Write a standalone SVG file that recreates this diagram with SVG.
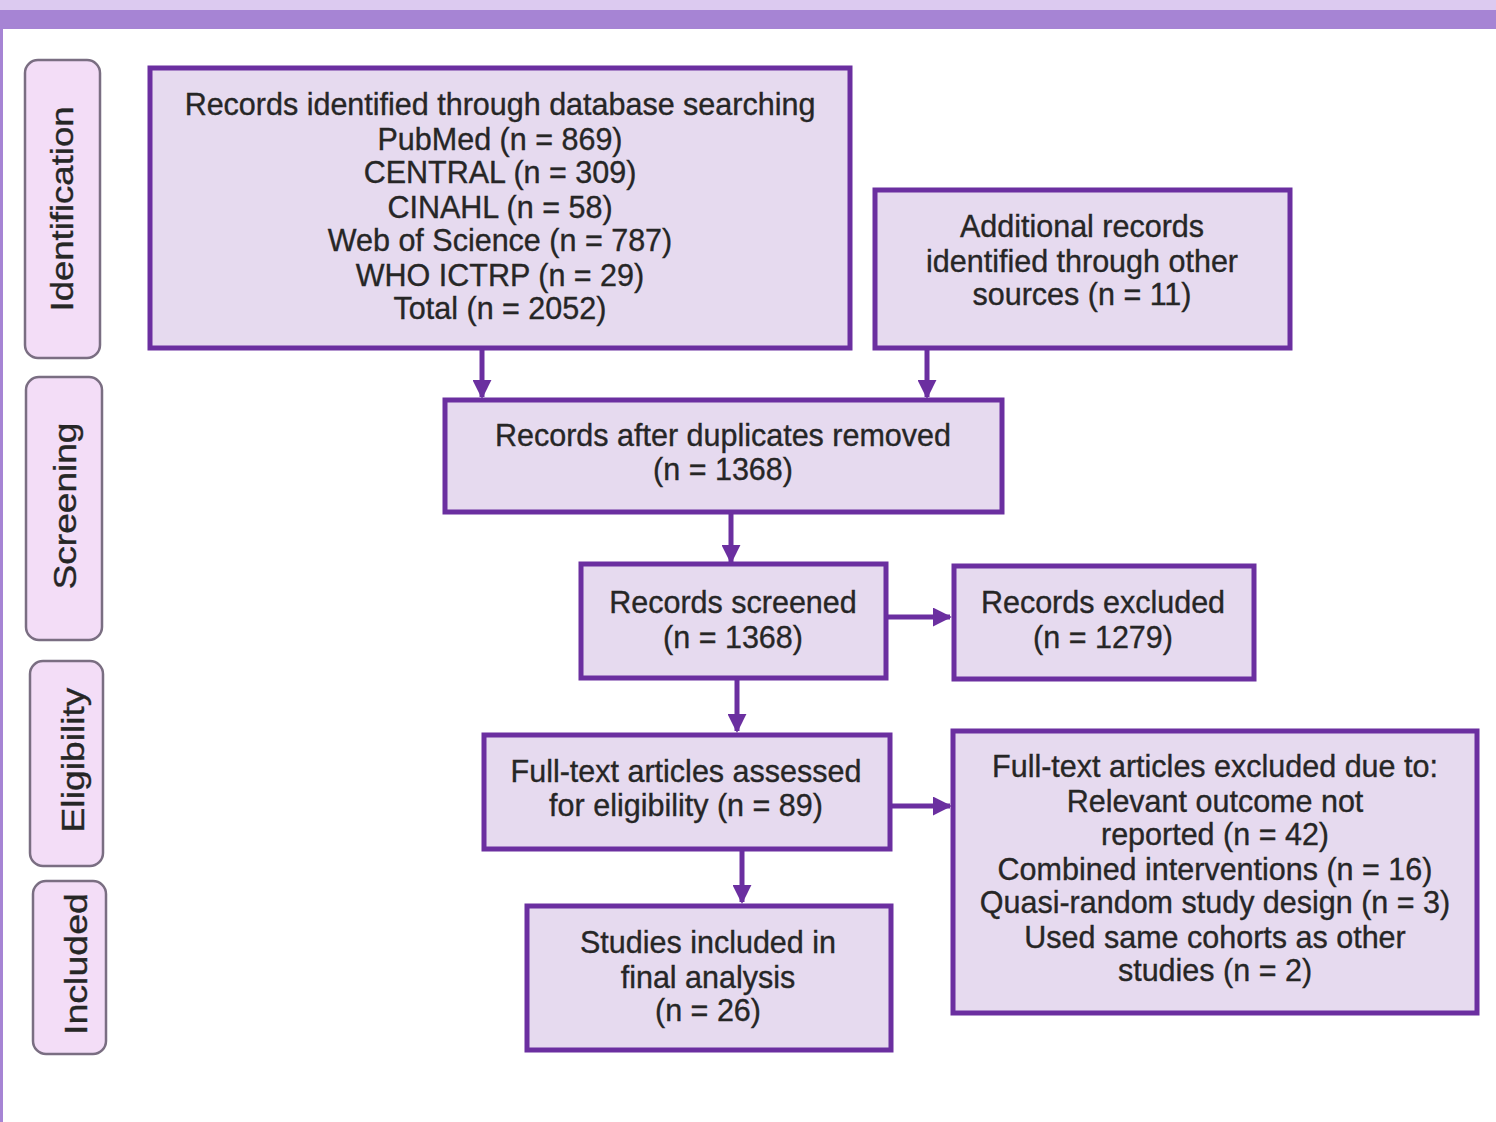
<svg xmlns="http://www.w3.org/2000/svg" width="1496" height="1122" viewBox="0 0 1496 1122">
<defs>
<style>
.box{fill:#e6daef;stroke:#6b2fa0;stroke-width:5}
.lab{fill:#f3ddf7;stroke:#7a6e82;stroke-width:2.5}
.t{font-family:"Liberation Sans",Arial,sans-serif;font-size:30.5px;fill:#262626;stroke:#262626;stroke-width:0.35;text-anchor:middle}
.s{font-family:"Liberation Sans",Arial,sans-serif;font-size:32px;fill:#262626;stroke:#262626;stroke-width:0.35;text-anchor:middle}
.c{stroke:#6b2fa0;stroke-width:5;fill:none}
</style>
<marker id="ah" viewBox="0 0 10 10" refX="9" refY="5" markerWidth="3.8" markerHeight="3.8" orient="auto" markerUnits="strokeWidth">
<path d="M0,0 L10,5 L0,10 z" fill="#6b2fa0"/>
</marker>
</defs>
<rect x="0" y="0" width="1496" height="1122" fill="#ffffff"/>
<rect x="0" y="0" width="1496" height="10" fill="#dccaf0"/>
<rect x="0" y="10" width="1496" height="19" fill="#a684d4"/>
<rect x="0" y="29" width="3" height="1093" fill="#a684d4"/>

<g id="lane-identification">
<rect class="lab" x="25" y="60" width="75" height="298" rx="13"/>
<text class="s" transform="translate(73,209) rotate(-90)" textLength="205" lengthAdjust="spacingAndGlyphs">Identification</text>
</g>
<g id="lane-screening">
<rect class="lab" x="26" y="377" width="76" height="263" rx="13"/>
<text class="s" transform="translate(76,506) rotate(-90)" textLength="167" lengthAdjust="spacingAndGlyphs">Screening</text>
</g>
<g id="lane-eligibility">
<rect class="lab" x="30" y="661" width="73" height="205" rx="13"/>
<text class="s" transform="translate(84,760) rotate(-90)" textLength="145" lengthAdjust="spacingAndGlyphs">Eligibility</text>
</g>
<g id="lane-included">
<rect class="lab" x="33" y="881" width="73" height="173" rx="13"/>
<text class="s" transform="translate(87,964) rotate(-90)" textLength="142" lengthAdjust="spacingAndGlyphs">Included</text>
</g>

<g id="connectors">
<line class="c" x1="482" y1="348" x2="482" y2="397" marker-end="url(#ah)"/>
<line class="c" x1="927" y1="348" x2="927" y2="397" marker-end="url(#ah)"/>
<line class="c" x1="731" y1="512" x2="731" y2="562" marker-end="url(#ah)"/>
<line class="c" x1="737" y1="678" x2="737" y2="731" marker-end="url(#ah)"/>
<line class="c" x1="742" y1="849" x2="742" y2="902" marker-end="url(#ah)"/>
<line class="c" x1="886" y1="617" x2="950" y2="617" marker-end="url(#ah)"/>
<line class="c" x1="890" y1="806" x2="950" y2="806" marker-end="url(#ah)"/>
</g>

<g id="n-identified">
<rect class="box" x="150" y="68" width="700" height="280"/>
<text class="t" x="500" y="115">Records identified through database searching</text>
<text class="t" x="500" y="150">PubMed (n = 869)</text>
<text class="t" x="500" y="183">CENTRAL (n = 309)</text>
<text class="t" x="500" y="218">CINAHL (n = 58)</text>
<text class="t" x="500" y="251">Web of Science (n = 787)</text>
<text class="t" x="500" y="286">WHO ICTRP (n = 29)</text>
<text class="t" x="500" y="319">Total (n = 2052)</text>
</g>
<g id="n-additional">
<rect class="box" x="875" y="190" width="415" height="158"/>
<text class="t" x="1082" y="237">Additional records</text>
<text class="t" x="1082" y="272">identified through other</text>
<text class="t" x="1082" y="305">sources (n = 11)</text>
</g>
<g id="n-duplicates">
<rect class="box" x="445" y="400" width="557" height="112"/>
<text class="t" x="723" y="446">Records after duplicates removed</text>
<text class="t" x="723" y="480">(n = 1368)</text>
</g>
<g id="n-screened">
<rect class="box" x="581" y="564" width="305" height="114"/>
<text class="t" x="733" y="613">Records screened</text>
<text class="t" x="733" y="648">(n = 1368)</text>
</g>
<g id="n-excluded">
<rect class="box" x="954" y="566" width="300" height="113"/>
<text class="t" x="1103" y="613">Records excluded</text>
<text class="t" x="1103" y="648">(n = 1279)</text>
</g>
<g id="n-fulltext">
<rect class="box" x="484" y="735" width="406" height="114"/>
<text class="t" x="686" y="782">Full-text articles assessed</text>
<text class="t" x="686" y="816">for eligibility (n = 89)</text>
</g>
<g id="n-ft-excluded">
<rect class="box" x="953" y="731" width="524" height="282"/>
<text class="t" x="1215" y="777">Full-text articles excluded due to:</text>
<text class="t" x="1215" y="812">Relevant outcome not</text>
<text class="t" x="1215" y="845">reported (n = 42)</text>
<text class="t" x="1215" y="880">Combined interventions (n = 16)</text>
<text class="t" x="1215" y="913">Quasi-random study design (n = 3)</text>
<text class="t" x="1215" y="948">Used same cohorts as other</text>
<text class="t" x="1215" y="981">studies (n = 2)</text>
</g>
<g id="n-included">
<rect class="box" x="527" y="906" width="364" height="144"/>
<text class="t" x="708" y="953">Studies included in</text>
<text class="t" x="708" y="988">final analysis</text>
<text class="t" x="708" y="1021">(n = 26)</text>
</g>
</svg>
